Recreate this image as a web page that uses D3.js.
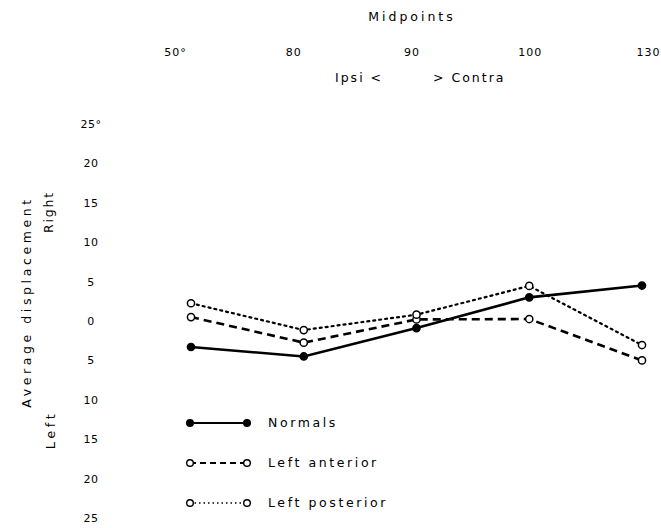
<!DOCTYPE html>
<html>
<head>
<meta charset="utf-8">
<script src="https://cdn.jsdelivr.net/npm/d3@7"></script>
<style>
  html, body { margin: 0; padding: 0; background: #fff; }
  svg text { font-family: "DejaVu Sans", "Liberation Sans", sans-serif; fill: #000; }
</style>
</head>
<body>
<svg id="chart" width="661" height="528"></svg>
<script>
// ---- data ----
const categories = ["50°", "80", "90", "100", "130"];
const normals = [-3.3, -4.5, -0.9, 3.0, 4.5];
const leftAnterior = [0.5, -2.75, 0.2, 0.25, -5.0];
const leftPosterior = [2.25, -1.15, 0.8, 4.45, -3.05];
const seriesNames = ["Normals", "Left anterior", "Left posterior"];
const yTicks = [25, 20, 15, 10, 5, 0, -5, -10, -15, -20, -25];

const series = [
  { name: seriesNames[0], values: normals, dash: null, width: 2.6, filled: true },
  { name: seriesNames[1], values: leftAnterior, dash: "8,5", width: 2.6, filled: false },
  { name: seriesNames[2], values: leftPosterior, dash: "2,4", width: 2.2, filled: false }
];

const svg = d3.select("#chart");

const xMarks = d3.scalePoint().domain(categories).range([191, 642]);
const xLabels = d3.scalePoint().domain(categories).range([175, 648]);
const y = d3.scaleLinear().domain([-25, 25]).range([518, 124]);

// top axis labels
const xAxis = svg.append("g")
  .attr("transform", "translate(0,56)")
  .call(d3.axisTop(xLabels).tickSize(0).tickPadding(0));
xAxis.select(".domain").remove();
xAxis.selectAll("text")
  .style("font-size", "11px")
  .style("letter-spacing", "1px")
  .attr("dy", "0");

// left axis labels
const yAxis = svg.append("g")
  .attr("transform", "translate(98,0)")
  .call(d3.axisLeft(y).tickValues(yTicks).tickSize(0).tickPadding(0)
    .tickFormat(d => d === 25 ? "25°" : String(Math.abs(d))));
yAxis.select(".domain").remove();
yAxis.selectAll("text")
  .attr("text-anchor", "middle")
  .attr("x", -7)
  .style("font-size", "11px")
  .style("letter-spacing", "0.5px");

// titles
svg.append("text").attr("x", 412).attr("y", 21)
  .attr("text-anchor", "middle").style("font-size", "12.5px").style("letter-spacing", "3px")
  .text("Midpoints");
svg.append("text").attr("x", 335).attr("y", 82)
  .attr("text-anchor", "start").style("font-size", "12.5px").style("letter-spacing", "2px")
  .text("Ipsi  <");
svg.append("text").attr("x", 433).attr("y", 82)
  .attr("text-anchor", "start").style("font-size", "12.5px").style("letter-spacing", "2px")
  .text(">  Contra");

svg.append("text")
  .attr("transform", "translate(31,302) rotate(-90)")
  .attr("text-anchor", "middle").style("font-size", "12.5px").style("letter-spacing", "3.6px")
  .text("Average displacement");
svg.append("text")
  .attr("transform", "translate(53,212) rotate(-90)")
  .attr("text-anchor", "middle").style("font-size", "12.5px").style("letter-spacing", "1.8px")
  .text("Right");
svg.append("text")
  .attr("transform", "translate(55,430) rotate(-90)")
  .attr("text-anchor", "middle").style("font-size", "13px").style("letter-spacing", "3.5px")
  .text("Left");

// lines
const line = d3.line()
  .x((d, i) => xMarks(categories[i]))
  .y(d => y(d));

const g = svg.append("g");
series.forEach(s => {
  g.append("path")
    .datum(s.values)
    .attr("fill", "none")
    .attr("stroke", "#000")
    .attr("stroke-width", s.width)
    .attr("stroke-dasharray", s.dash)
    .attr("stroke-linecap", s.dash === "2,4" ? "round" : "butt")
    .attr("d", line);
});
series.forEach(s => {
  g.selectAll(null)
    .data(s.values)
    .join("circle")
    .attr("cx", (d, i) => xMarks(categories[i]))
    .attr("cy", d => y(d))
    .attr("r", 3.6)
    .attr("fill", s.filled ? "#000" : "#fff")
    .attr("stroke", "#000")
    .attr("stroke-width", 1.5);
});

// legend
const legendY = d3.scalePoint().domain(seriesNames).range([423, 503]);
const leg = svg.append("g");
series.forEach(s => {
  const yy = legendY(s.name);
  leg.append("line")
    .attr("x1", 190).attr("x2", 247).attr("y1", yy).attr("y2", yy)
    .attr("stroke", "#000")
    .attr("stroke-width", s.dash === "2,4" ? 1.6 : 2.2)
    .attr("stroke-dasharray", s.dash === "8,5" ? "6,4" : s.dash === "2,4" ? "1.5,3" : null);
  [190, 247].forEach(cx => {
    leg.append("circle")
      .attr("cx", cx).attr("cy", yy).attr("r", 3.3)
      .attr("fill", s.filled ? "#000" : "#fff")
      .attr("stroke", "#000").attr("stroke-width", 1.4);
  });
  leg.append("text")
    .attr("x", 268).attr("y", yy).attr("dy", "0.35em")
    .style("font-size", "12.5px").style("letter-spacing", "2.6px")
    .text(s.name);
});
</script>
</body>
</html>
